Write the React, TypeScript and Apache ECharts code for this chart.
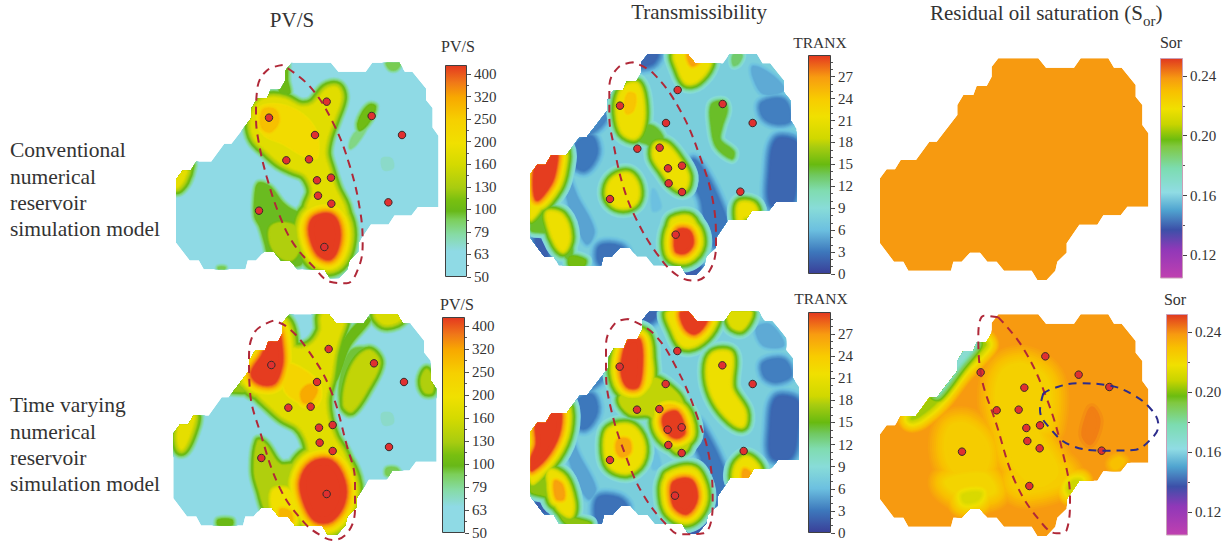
import React, { useEffect, useRef } from "react";
import * as echarts from "echarts";

// --- colour ramps: [position on the colour bar, colour]
const pvRamp: [number, string][] = [[0, "#8fdae5"], [0.12, "#8fdae5"], [0.2, "#86dba4"], [0.27, "#7ccf5a"], [0.31, "#68b818"], [0.36, "#78bf10"], [0.42, "#a8cc10"], [0.53, "#d4da00"], [0.63, "#f0e000"], [0.74, "#f6d000"], [0.85, "#f8a800"], [0.92, "#f07818"], [1, "#e43820"]];
const tranxRamp: [number, string][] = [[0, "#3a3f98"], [0.1, "#3d78bc"], [0.2, "#6cc0e0"], [0.3, "#88dcd8"], [0.38, "#80dcb0"], [0.45, "#70c860"], [0.5, "#68ba10"], [0.58, "#a8cc10"], [0.62, "#d0d800"], [0.72, "#f0e000"], [0.8, "#f8cc00"], [0.9, "#f89c10"], [1, "#e43820"]];
const sorRamp: [number, string][] = [[0, "#c040b0"], [0.13, "#9038b8"], [0.22, "#3c50a8"], [0.31, "#50a4d0"], [0.39, "#90dce4"], [0.5, "#7cdcb0"], [0.6, "#80c840"], [0.63, "#6cbc10"], [0.7, "#c8d400"], [0.77, "#f0e000"], [0.85, "#f8c000"], [0.91, "#f79a10"], [1, "#e03820"]];

// --- colour-bar labels
const pvLabels = ["50", "63", "79", "100", "130", "160", "200", "250", "320", "400"];
const tranxLabels = ["0", "3", "6", "9", "12", "15", "18", "21", "24", "27"];
const sorLabels = ["0.12", "0.16", "0.20", "0.24"];

// --- reservoir outline (map units = 1/3 px)
const outline: [number, number][] = [[385, 85], [505, 85], [528, 113], [612, 113], [632, 85], [715, 85], [732, 113], [755, 113], [797, 165], [797, 200], [817, 225], [817, 285], [835, 310], [835, 530], [772, 530], [752, 556], [700, 556], [682, 584], [628, 584], [590, 640], [590, 668], [562, 695], [556, 722], [530, 750], [502, 750], [485, 722], [402, 722], [380, 695], [352, 695], [330, 668], [300, 668], [275, 695], [250, 695], [243, 722], [115, 722], [100, 695], [72, 695], [30, 640], [30, 445], [50, 418], [75, 418], [92, 390], [138, 390], [178, 335], [200, 335], [262, 255], [262, 225], [280, 195], [310, 195], [320, 168], [350, 168], [365, 140], [365, 110]];

// --- traced contour regions: [level on the colour bar, contour points, optional falloff]
type Region = [number, number[][], number?];
const regionsA: Region[] = [
  [0.58, [[262, 225], [300, 205], [345, 210], [390, 232], [430, 225], [470, 180], [500, 175], [510, 205], [490, 265], [470, 320], [462, 370], [475, 420], [495, 480], [520, 530], [530, 590], [520, 660], [490, 695], [450, 670], [420, 640], [405, 590], [415, 530], [430, 490], [425, 460], [405, 430], [370, 415], [330, 395], [290, 360], [255, 325], [245, 275]]],
  [0.68, [[270, 235], [350, 230], [430, 290], [440, 380], [400, 375], [340, 340], [280, 310]]],
  [0.8, [[280, 240], [315, 240], [325, 275], [300, 305], [275, 290]]],
  [1.1, [[440, 565], [480, 560], [500, 590], [500, 640], [480, 680], [450, 670], [430, 630], [425, 590]]],
  [0.45, [[305, 590], [345, 580], [385, 600], [385, 660], [360, 690], [320, 670], [300, 630]]],
  [0.32, [[265, 460], [300, 470], [340, 520], [380, 545], [405, 540], [410, 600], [395, 700], [350, 705], [300, 685], [285, 640], [270, 590], [255, 560], [255, 500]]],
  [0.33, [[330, 190], [335, 130], [345, 98], [352, 98], [352, 150], [358, 190]]],
  [0.34, [[600, 225], [615, 230], [600, 270], [570, 300], [565, 280], [580, 245]]],
  [0.24, [[565, 300], [590, 290], [560, 340], [540, 355], [545, 325]]],
  [0.6, [[18, 410], [45, 400], [52, 405], [38, 450], [18, 470]]],
  [0.28, [[650, 98], [690, 98], [680, 118], [660, 118]]],
  [0.28, [[145, 712], [165, 712], [160, 722], [148, 722]]],
  [0.16, [[635, 385], [665, 385], [670, 415], [640, 420]]],
];
const regionsB: Region[] = [
  [0.09, [[170, 340], [215, 320], [230, 370], [195, 420], [160, 400]]],
  [0.11, [[265, 195], [285, 175], [270, 240], [240, 290], [190, 320], [235, 260]]],
  [0.06, [[770, 330], [830, 340], [830, 420], [810, 525], [755, 525], [750, 430]]],
  [0.1, [[725, 220], [790, 210], [810, 270], [770, 280], [730, 260]]],
  [0.16, [[700, 110], [760, 140], [790, 180], [730, 190], [700, 140]]],
  [0.09, [[520, 390], [555, 430], [600, 520], [620, 590], [590, 650], [560, 600], [545, 510], [520, 450]]],
  [0.08, [[240, 650], [300, 650], [320, 680], [290, 705], [240, 700]]],
  [0.06, [[360, 72], [410, 72], [395, 100], [350, 105]]],
  [0.05, [[470, 715], [540, 715], [520, 735], [480, 735]]],
  [0.05, [[50, 625], [70, 640], [80, 680], [55, 660]]],
  [0.15, [[140, 430], [170, 500], [220, 600], [200, 640], [160, 560], [140, 490]]],
  [0.19, [[400, 480], [420, 530], [400, 540]]],
  [0.72, [[320, 170], [350, 165], [365, 210], [365, 280], [345, 320], [310, 305], [295, 250], [300, 200]]],
  [0.82, [[325, 190], [345, 195], [340, 240], [320, 250], [315, 220]]],
  [0.5, [[350, 290], [400, 290], [430, 330], [410, 360], [380, 340], [355, 330]]],
  [0.72, [[410, 345], [440, 350], [480, 400], [500, 440], [490, 475], [460, 460], [430, 420], [405, 380]]],
  [0.72, [[285, 445], [325, 435], [350, 470], [345, 515], [310, 530], [275, 515], [265, 480]]],
  [0.7, [[460, 570], [510, 565], [530, 620], [515, 680], [470, 690], [450, 640], [450, 600]]],
  [1.05, [[475, 605], [505, 605], [515, 640], [495, 665], [470, 660]]],
  [0.72, [[470, 72], [560, 72], [565, 105], [530, 150], [500, 155], [480, 120]]],
  [0.9, [[505, 72], [545, 72], [535, 95], [515, 105]]],
  [1.05, [[55, 380], [105, 365], [105, 410], [90, 460], [50, 505]]],
  [0.72, [[110, 355], [120, 370], [105, 450], [70, 515], [30, 565], [32, 520], [50, 440]]],
  [0.72, [[85, 550], [125, 560], [145, 620], [130, 660], [110, 640], [90, 590]]],
  [0.5, [[32, 560], [90, 540], [135, 560], [155, 640], [150, 690], [120, 660], [80, 610], [32, 600]]],
  [0.52, [[150, 680], [195, 690], [190, 708], [150, 708]]],
  [0.5, [[575, 225], [610, 215], [620, 240], [605, 290], [600, 330], [640, 365], [635, 385], [590, 350], [575, 290]]],
  [0.72, [[660, 525], [695, 525], [705, 550], [670, 560], [660, 580]]],
  [0.45, [[640, 75], [665, 75], [655, 100], [640, 105]]],
];
const regionsC: Region[] = [];
const regionsD: Region[] = [
  [0.58, [[320, 125], [355, 150], [370, 190], [420, 185], [455, 140], [460, 90], [520, 90], [500, 170], [490, 210], [480, 280], [465, 340], [470, 400], [490, 460], [520, 510], [545, 590], [540, 660], [500, 715], [440, 715], [400, 660], [395, 590], [405, 530], [420, 500], [410, 455], [385, 420], [340, 395], [300, 360], [260, 320], [250, 290], [220, 295], [235, 260], [275, 190], [310, 130]]],
  [0.4, [[170, 295], [235, 285], [250, 315], [170, 315]]],
  [1.12, [[430, 540], [480, 535], [515, 590], [515, 650], [480, 700], [440, 700], [410, 650], [400, 590]]],
  [1.08, [[320, 135], [330, 190], [330, 240], [310, 290], [270, 290], [250, 265], [280, 215], [305, 160]]],
  [0.85, [[420, 300], [440, 315], [420, 350], [400, 350], [395, 320]]],
  [0.72, [[350, 240], [430, 280], [450, 330], [430, 360], [350, 320]]],
  [0.45, [[265, 470], [285, 480], [330, 540], [400, 540], [390, 620], [385, 730], [340, 730], [290, 680], [270, 620], [255, 560]]],
  [0.65, [[310, 620], [360, 620], [380, 680], [360, 720], [320, 700]]],
  [0.82, [[330, 675], [360, 680], [365, 710], [340, 720]]],
  [0.3, [[590, 190], [630, 225], [600, 320], [540, 390], [515, 370], [510, 290], [540, 200]]],
  [0.5, [[600, 200], [625, 235], [590, 310], [545, 375], [525, 360], [535, 280], [565, 220]]],
  [0.33, [[580, 100], [600, 105], [540, 180], [510, 260], [495, 290], [490, 260], [520, 170]]],
  [0.55, [[620, 88], [700, 88], [680, 110], [640, 115]]],
  [0.45, [[770, 255], [785, 280], [785, 320], [765, 320], [755, 285]]],
  [0.6, [[40, 395], [70, 390], [60, 440], [35, 490], [25, 450]]],
  [0.33, [[145, 705], [185, 705], [185, 720], [145, 720]]],
  [0.28, [[650, 550], [680, 550], [690, 570], [650, 570]]],
  [0.16, [[635, 385], [665, 385], [670, 415], [640, 420]]],
];
const regionsE: Region[] = [
  [0.09, [[170, 350], [215, 330], [230, 380], [195, 430], [160, 410]]],
  [0.11, [[270, 190], [290, 170], [275, 235], [245, 285], [195, 320], [240, 255]]],
  [0.06, [[770, 340], [832, 350], [832, 420], [812, 515], [757, 515], [752, 430]]],
  [0.1, [[730, 235], [790, 225], [812, 270], [770, 290], [735, 275]]],
  [0.16, [[710, 130], [750, 120], [790, 180], [730, 180]]],
  [0.09, [[530, 410], [560, 450], [600, 530], [620, 600], [590, 660], [560, 610], [545, 520], [525, 470]]],
  [0.08, [[235, 640], [295, 640], [320, 670], [290, 715], [235, 710]]],
  [0.06, [[365, 80], [410, 80], [395, 105], [355, 110]]],
  [0.04, [[470, 730], [555, 720], [530, 745], [480, 745]]],
  [0.05, [[55, 640], [75, 650], [85, 680], [55, 670]]],
  [0.15, [[145, 440], [175, 510], [225, 610], [205, 640], [165, 570], [145, 500]]],
  [0.19, [[400, 490], [420, 540], [400, 550]]],
  [0.72, [[320, 150], [360, 150], [385, 200], [390, 290], [350, 330], [300, 300], [285, 250], [300, 200]]],
  [1.08, [[330, 170], [355, 170], [360, 240], [350, 300], [325, 300], [310, 260], [315, 210]]],
  [0.62, [[350, 300], [400, 280], [440, 300], [480, 340], [510, 430], [500, 490], [470, 500], [420, 440], [390, 390], [330, 385], [300, 340]]],
  [0.82, [[420, 370], [470, 365], [495, 420], [490, 460], [460, 465], [430, 430]]],
  [1.05, [[440, 390], [470, 385], [490, 440], [470, 455], [445, 440], [432, 410]]],
  [0.72, [[270, 435], [330, 425], [365, 470], [360, 530], [320, 560], [270, 540], [258, 480]]],
  [0.88, [[295, 465], [325, 465], [330, 500], [305, 515], [290, 495]]],
  [0.72, [[445, 570], [520, 555], [550, 620], [530, 690], [480, 705], [445, 660], [440, 610]]],
  [1.08, [[465, 595], [510, 590], [525, 640], [500, 680], [470, 665], [460, 630]]],
  [0.72, [[450, 80], [585, 80], [575, 130], [530, 175], [490, 180], [465, 140]]],
  [1.08, [[490, 80], [550, 80], [555, 105], [525, 140], [500, 125]]],
  [0.72, [[120, 360], [135, 380], [120, 460], [90, 530], [40, 590], [32, 570], [32, 530], [60, 460]]],
  [1.08, [[55, 395], [110, 365], [115, 430], [85, 500], [35, 550], [35, 530], [55, 480]]],
  [0.55, [[32, 600], [90, 585], [120, 680], [210, 715], [140, 715], [90, 640], [32, 620]]],
  [0.72, [[90, 560], [130, 580], [155, 650], [150, 690], [120, 670], [95, 620]]],
  [0.9, [[105, 590], [125, 600], [130, 640], [110, 640]]],
  [0.72, [[580, 210], [630, 210], [630, 310], [670, 380], [665, 420], [620, 390], [580, 330], [565, 260]]],
  [0.68, [[630, 80], [690, 80], [665, 130], [635, 120]]],
  [0.72, [[650, 545], [680, 520], [715, 555], [700, 590], [650, 590]]],
  [0.9, [[672, 555], [690, 565], [680, 590], [670, 590]]],
];
const regionsF: Region[] = [
  [0.8, [[400, 260], [460, 240], [530, 290], [530, 420], [500, 440], [560, 560], [500, 600], [420, 520], [400, 440], [380, 340]], 200],
  [0.81, [[240, 430], [290, 420], [350, 480], [340, 560], [270, 570], [230, 510]], 200],
  [0.81, [[440, 560], [560, 540], [590, 580], [480, 620], [430, 600]], 200],
  [0.79, [[230, 590], [340, 570], [370, 620], [280, 630]], 170],
  [0.72, [[280, 630], [330, 625], [320, 645], [285, 650]], 100],
  [0.66, [[330, 170], [345, 180], [270, 260], [200, 350], [145, 395], [125, 400], [190, 330], [255, 250]], 60],
  [0.42, [[290, 190], [315, 178], [265, 240], [225, 295], [200, 325], [205, 305], [250, 240]], 35],
  [0.7, [[610, 590], [630, 590], [605, 625], [595, 610]], 70],
  [0.84, [[745, 520], [760, 530], [735, 550], [725, 535]], 120],
  [0.945, [[665, 370], [685, 400], [680, 440], [660, 475], [640, 450], [650, 400]], 200],
];

// --- wells (scatter points)
const wellsA = [[297, 263], [470, 215], [435, 315], [605, 258], [696, 315], [349, 391], [417, 388], [483, 443], [441, 451], [444, 497], [484, 521], [655, 517], [267, 542], [463, 651]];
const wellsB = [[473, 180], [300, 227], [438, 279], [608, 222], [698, 279], [352, 356], [419, 353], [486, 407], [444, 415], [446, 460], [486, 486], [661, 485], [270, 507], [467, 614]];
const wellsD = [[304, 240], [476, 192], [441, 291], [612, 235], [702, 291], [355, 368], [422, 365], [488, 420], [447, 428], [449, 473], [488, 498], [657, 486], [274, 519], [470, 627]];
const wellsE = [[472, 198], [299, 245], [437, 297], [607, 241], [698, 297], [351, 374], [418, 372], [485, 427], [443, 434], [445, 480], [485, 504], [671, 498], [270, 525], [465, 632]];
const wellsF = [[526, 214], [626, 269], [718, 306], [332, 262], [463, 308], [380, 376], [446, 374], [510, 421], [469, 429], [472, 468], [509, 490], [695, 497], [276, 500], [478, 603]];

// --- dashed highlight ovals
const ovalA = [[338, 105], [290, 122], [262, 175], [258, 260], [265, 330], [290, 440], [330, 560], [370, 640], [430, 710], [480, 755], [530, 760], [565, 715], [578, 640], [570, 540], [540, 410], [490, 280], [420, 170], [338, 105]];
const ovalB = [[340, 97], [295, 112], [268, 170], [268, 260], [280, 340], [310, 470], [350, 570], [410, 670], [470, 735], [525, 752], [570, 720], [588, 640], [580, 520], [540, 380], [480, 240], [400, 130], [340, 97]];
const ovalD = [[310, 107], [255, 140], [237, 220], [240, 320], [270, 440], [330, 610], [400, 710], [450, 750], [490, 765], [535, 740], [555, 670], [555, 590], [530, 480], [480, 310], [410, 190], [350, 125], [310, 107]];
const ovalE = [[325, 102], [285, 115], [258, 180], [258, 260], [275, 380], [320, 520], [370, 630], [440, 720], [480, 748], [550, 745], [578, 660], [570, 530], [530, 390], [470, 250], [400, 145], [325, 102]];
const ovalF = [[385, 97], [342, 92], [325, 150], [330, 250], [380, 420], [440, 600], [520, 720], [560, 745], [590, 735], [600, 640], [580, 510], [530, 340], [460, 190], [385, 97]];
const ovalBlue = [[520, 325], [510, 375], [540, 430], [600, 480], [700, 497], [790, 495], [850, 455], [865, 420], [845, 375], [790, 330], [720, 302], [620, 295], [550, 310], [520, 325]];

const FONT = "Liberation Serif";
const hex = (c: string) => [1, 3, 5].map((i) => parseInt(c.slice(i, i + 2), 16));
function rampColor(ramp: [number, string][], t: number) {
  const v = Math.min(1, Math.max(0, t));
  for (let i = 1; i < ramp.length; i++) {
    if (v <= ramp[i][0]) {
      const [a, ca] = ramp[i - 1];
      const [b, cb] = ramp[i];
      const f = b === a ? 0 : (v - a) / (b - a);
      const A = hex(ca), B = hex(cb);
      return `rgb(${A.map((x, k) => Math.round(x + (B[k] - x) * f)).join(",")})`;
    }
  }
  return ramp[ramp.length - 1][1];
}

// kUp / kDown: how many px a contour band spreads per unit of colour-bar position
const panels = [
  { x: 170, y: 30, w: 340, h: 260, ramp: pvRamp, base: 0.1, kUp: 24, kDown: 28, regions: regionsA, wells: wellsA, ovals: [ovalA], tf: [18, 0.978, 98, 0.973] },
  { x: 520, y: 30, w: 340, h: 260, ramp: tranxRamp, base: 0.25, kUp: 26, kDown: 55, regions: regionsB, wells: wellsB, ovals: [ovalB], tf: [32, 0.991, 72, 0.997] },
  { x: 870, y: 30, w: 358, h: 260, ramp: sorRamp, base: 0.91, kUp: 100, kDown: 100, regions: regionsC, wells: [], ovals: [], tf: [30, 1, 85, 1] },
  { x: 170, y: 285, w: 340, h: 259, ramp: pvRamp, base: 0.1, kUp: 24, kDown: 28, regions: regionsD, wells: wellsD, ovals: [ovalD], tf: [10, 0.981, 88, 0.994] },
  { x: 520, y: 285, w: 340, h: 259, ramp: tranxRamp, base: 0.25, kUp: 26, kDown: 55, regions: regionsE, wells: wellsE, ovals: [ovalE], tf: [32, 1, 80, 1] },
  { x: 870, y: 285, w: 358, h: 259, ramp: sorRamp, base: 0.91, kUp: 100, kDown: 100, regions: regionsF, wells: wellsF, ovals: [ovalF, ovalBlue], tf: [30, 1, 88, 1] },
];

const bars = [
  { left: 445, top: 65, w: 22, h: 212, ramp: pvRamp, labels: pvLabels, max: 9.4, minor: 0.5, low: 0 },
  { left: 808, top: 55, w: 23, h: 219, ramp: tranxRamp, labels: tranxLabels, max: 9.99, minor: 1 / 3, low: 0 },
  { left: 1160, top: 58, w: 23, h: 220, ramp: sorRamp, labels: sorLabels, max: 0.252, minor: 0, low: 0.1048 },
  { left: 442, top: 317, w: 23, h: 216, ramp: pvRamp, labels: pvLabels, max: 9.4, minor: 0.5, low: 0 },
  { left: 808, top: 312, w: 23, h: 221, ramp: tranxRamp, labels: tranxLabels, max: 9.99, minor: 1 / 3, low: 0 },
  { left: 1166, top: 314, w: 22, h: 221, ramp: sorRamp, labels: sorLabels, max: 0.252, minor: 0, low: 0.1048 },
];

const texts: [string, number, number, number, string][] = [
  ["PV/S", 292, 20, 21, "center"], ["Transmissibility", 699, 12, 21, "center"],
  ["PV/S", 458, 46, 16, "center"], ["TRANX", 820, 42, 15.5, "center"], ["Sor", 1171, 42, 16, "center"],
  ["PV/S", 457, 304, 16, "center"], ["TRANX", 821, 298, 15.5, "center"], ["Sor", 1175, 299, 16, "center"],
  ["Conventional", 10, 150, 21.5, "left"], ["numerical", 10, 177, 21.5, "left"], ["reservoir", 10, 203, 21.5, "left"], ["simulation model", 10, 229, 21.5, "left"],
  ["Time varying", 10, 405, 21.5, "left"], ["numerical", 10, 432, 21.5, "left"], ["reservoir", 10, 458, 21.5, "left"], ["simulation model", 10, 484, 21.5, "left"],
];

function makeOption() {
  const grid: any[] = [], xAxis: any[] = [], yAxis: any[] = [], series: any[] = [];
  panels.forEach((p) => {
    const g = grid.length;
    grid.push({ left: p.x, top: p.y, width: p.w, height: p.h });
    xAxis.push({ gridIndex: g, type: "value", min: 0, max: p.w * 3, show: false });
    yAxis.push({ gridIndex: g, type: "value", min: 0, max: p.h * 3, inverse: true, show: false });
    const [dx, sx, dy, sy] = p.tf;
    const shape = outline.map(([x, y]) => [dx + (x - 30) * sx, dy + (y - 85) * sy]);
    series.push({
      type: "custom", xAxisIndex: g, yAxisIndex: g, clip: false, silent: true,
      data: [[0, 0]],
      renderItem: (_: any, api: any) => {
        const clipPts = shape.map((q) => api.coord(q));
        const children: any[] = [{ type: "polygon", shape: { points: clipPts }, style: { fill: rampColor(p.ramp, p.base) } }];
        const band = (r: Region, L: number, spread: number) => {
          const c = rampColor(p.ramp, L);
          children.push({
            type: "polygon",
            shape: { points: r[1].map((q) => api.coord(q)), smooth: 0.35 },
            style: { fill: c, stroke: c, lineWidth: 2 * spread, lineJoin: "round" },
          });
        };
        const pits = p.regions.filter((r) => r[0] < p.base);
        const rises = p.regions.filter((r) => r[0] > p.base);
        for (let L = p.base - 0.01; L > 0; L -= 0.01) {
          pits.forEach((r) => { if (L > r[0]) band(r, L, (r[2] ?? p.kDown) * (L - r[0])); });
        }
        for (let L = p.base + 0.01; L <= 1.001; L += 0.015) {
          rises.forEach((r) => { if (L < r[0]) band(r, L, (r[2] ?? p.kUp) * (r[0] - L)); });
        }
        return { type: "group", clipPath: { type: "polygon", shape: { points: clipPts } }, children };
      },
    });
    p.ovals.forEach((o) => {
      series.push({
        type: "line", xAxisIndex: g, yAxisIndex: g, data: o, smooth: 0.4, symbol: "none", silent: true, clip: false,
        lineStyle: { color: o === ovalBlue ? "#2c2c8c" : "#b02838", width: 2, type: [8, 6] },
      });
    });
    if (p.wells.length) {
      series.push({
        type: "scatter", xAxisIndex: g, yAxisIndex: g, data: p.wells, symbolSize: 7.5, silent: true, clip: false,
        itemStyle: { color: "#e03030", borderColor: "#3a2a2a", borderWidth: 1, opacity: 1 },
      });
    }
  });

  bars.forEach((b) => {
    const g = grid.length;
    const realScale = b.low !== 0;
    const majors = realScale ? b.labels.map(Number) : b.labels.map((_, i) => i);
    const minors: number[] = [];
    if (realScale) minors.push(0.14, 0.18, 0.22);
    else for (let v = 0; v <= b.max; v += b.minor) minors.push(+v.toFixed(4));
    grid.push({ left: b.left, top: b.top, width: b.w, height: b.h });
    xAxis.push({ gridIndex: g, type: "category", data: [""], show: false });
    const ax = yAxis.length;
    yAxis.push({
      gridIndex: g, type: "value", min: b.low, max: b.max, position: "right", splitLine: { show: false },
      axisLine: { show: false },
      axisTick: { show: true, length: 4, customValues: majors, lineStyle: { color: "#444" } },
      axisLabel: {
        show: true, customValues: majors, margin: 7, fontFamily: FONT, fontSize: 15, color: "#333",
        formatter: (v: number) => (realScale ? v.toFixed(2) : b.labels[Math.round(v)]),
      },
    });
    yAxis.push({
      gridIndex: g, type: "value", min: b.low, max: b.max, position: "right", splitLine: { show: false },
      axisLine: { show: false }, axisLabel: { show: false },
      axisTick: { show: true, length: 2, customValues: minors, lineStyle: { color: "#555" } },
    });
    series.push({
      type: "bar", xAxisIndex: g, yAxisIndex: ax, barWidth: "100%", silent: true,
      data: [b.max],
      itemStyle: {
        borderColor: realScale ? "#c9a0b8" : "#404040", borderWidth: 1,
        color: new echarts.graphic.LinearGradient(0, 1, 0, 0, b.ramp.map(([offset, color]) => ({ offset, color }))),
      },
    });
  });

  const graphic: any[] = texts.map(([text, x, y, fontSize, textAlign]) => ({
    type: "text", x, y, style: { text, fontFamily: FONT, fontSize, textAlign, textVerticalAlign: "middle", fill: "#333" },
  }));
  graphic.push({
    type: "text", x: 930, y: 13,
    style: {
      text: "{n|Residual oil saturation (S}{s|or}{n|)}", fontFamily: FONT, textVerticalAlign: "middle", fill: "#333",
      rich: {
        n: { fontFamily: FONT, fontSize: 21, fill: "#333", lineHeight: 30, verticalAlign: "middle" },
        s: { fontFamily: FONT, fontSize: 15, fill: "#333", lineHeight: 16, verticalAlign: "bottom" },
      },
    },
  });

  return { animation: false, backgroundColor: "#fff", grid, xAxis, yAxis, series, graphic };
}

export default function App() {
  const ref = useRef<HTMLDivElement>(null);
  useEffect(() => {
    document.body.style.margin = "0";
    const chart = echarts.init(ref.current!, undefined, { renderer: "svg" });
    chart.setOption(makeOption() as any);
    return () => chart.dispose();
  }, []);
  return <div ref={ref} style={{ width: 1228, height: 544 }} />;
}
